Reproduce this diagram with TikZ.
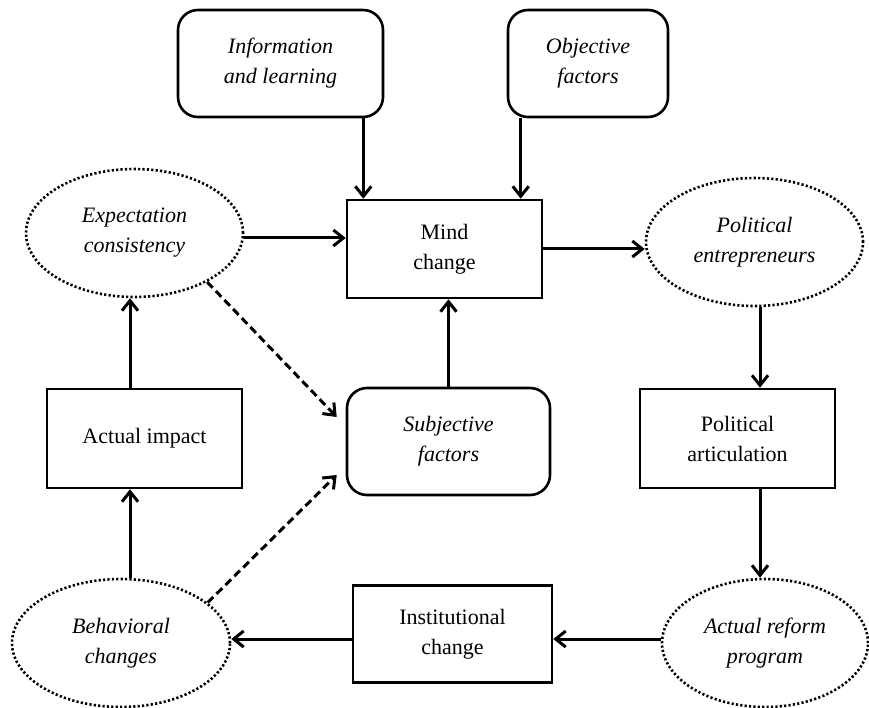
\documentclass[tikz,border=0pt]{standalone}
\usepackage{fontspec}
\setmainfont{Liberation Serif}
\usetikzlibrary{arrows.meta,shapes.geometric,calc}
\begin{document}
\begin{tikzpicture}[x=1pt,y=-1pt,
  every node/.style={align=center,inner sep=0pt,font=\fontsize{22}{30}\selectfont},
  plainbox/.style={draw,line width=2.6pt,minimum width=#1,minimum height=98pt},
  roundbox/.style={draw,line width=2.6pt,rounded corners=20pt,minimum width=#1,minimum height=107pt,font=\fontsize{22}{30}\selectfont\itshape},
  dotell/.style={draw,ellipse,line width=2.6pt,dash pattern=on 2.2pt off 2.2pt,minimum width=#1,minimum height=128pt,font=\fontsize{22}{30}\selectfont\itshape},
  arr/.style={line width=3pt,-{Straight Barb[length=10pt,width=16pt,line width=3pt]}},
  dasharr/.style={arr,dash pattern=on 8pt off 4.5pt}
]
\useasboundingbox (0,0) rectangle (869,708);

% top inputs
\node[roundbox=205pt] (info) at (280.5,63.5) {Information\\and learning};
\node[roundbox=160pt] (obj) at (588,63.5) {Objective\\factors};

% central column
\node[plainbox=195pt] (mind) at (444.5,249) {Mind\\change};
\node[roundbox=203pt] (subj) at (448.5,441.5) {Subjective\\factors};
\node[plainbox=199pt,minimum height=97pt] (inst) at (452.5,634) {Institutional\\change};

% left column
\node[dotell=217pt] (expect) at (134.5,233) {Expectation\\consistency};
\node[plainbox=195pt,minimum height=99pt] (impact) at (144.5,438.5) {Actual impact};
\node[dotell=218pt] (behav) at (121,643) {Behavioral\\changes};

% right column
\node[dotell=217pt] (polent) at (754.5,242) {Political\\entrepreneurs};
\node[plainbox=195pt,minimum height=99pt] (polart) at (737.5,438.5) {Political\\articulation};
\node[dotell=206pt] (reform) at (765,643) {Actual reform\\program};

% rails and exit points for the straight connectors
\coordinate (leftrail) at (130,0);
\coordinate (rightrail) at (760,0);
\coordinate (bottomrail) at (0,639);
\coordinate (infoout) at ($(info.south east)+(-21,0)$);
\coordinate (objout) at ($(obj.south west)+(14,0)$);

% inputs into the mind change
\draw[arr] (infoout) -- (infoout |- mind.north);
\draw[arr] (objout) -- (objout |- mind.north);
\draw[arr] (subj.north) -- (subj.north |- mind.south);
\draw[arr] ([yshift=-5pt]expect.east) -- ([yshift=-5pt]expect.east -| mind.west);
\draw[arr] (mind.east) -- (mind.east -| polent.west);

% right-hand chain
\draw[arr] (rightrail |- polent.south) -- (rightrail |- polart.north);
\draw[arr] (rightrail |- polart.south) -- (rightrail |- reform.north);

% bottom chain
\draw[arr] (reform.west |- bottomrail) -- (inst.east |- bottomrail);
\draw[arr] (inst.west |- bottomrail) -- (behav.east |- bottomrail);

% left-hand chain
\draw[arr] (leftrail |- behav.north) -- (leftrail |- impact.south);
\draw[arr] (leftrail |- impact.north) -- (leftrail |- expect.south);

% feedback into subjective factors
\draw[dasharr] (expect.-34) -- ($(subj.west)+(-9,-24.5)$);
\draw[dasharr] (behav.25) -- ($(subj.west)+(-9,33.5)$);
\end{tikzpicture}
\end{document}
